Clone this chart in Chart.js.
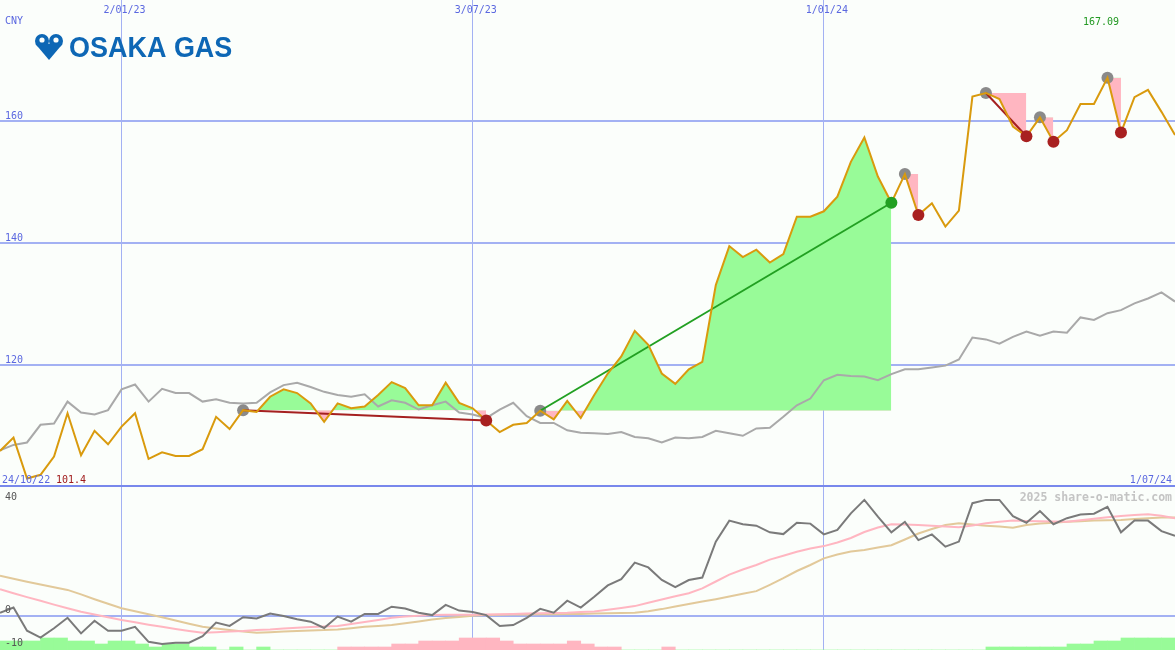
<!DOCTYPE html>
<html>
<head>
<meta charset="utf-8">
<script src="https://cdn.jsdelivr.net/npm/chart.js@4.4.1/dist/chart.umd.min.js"></script>
<style>
html, body { margin: 0; padding: 0; background: #fbfefb; }
canvas { display: block; }
</style>
</head>
<body>
<canvas id="priceChart" width="1175" height="487"></canvas>
<canvas id="oscChart" width="1175" height="163"></canvas>
<script>
// weekly closes, index 0 = first week shown
const dateIdx = [9, 35, 61];
const dateLabels = ['2/01/23', '3/07/23', '1/01/24'];
const startLabel = '24/10/22';
const endLabel = '1/07/24';
const minLabel = '101.4';
const maxLabel = '167.09';
const currency = 'CNY';
const priceTicks = [120, 140, 160];
const oscTicks = [40, 0, -10];

const price = [105.9, 108.1, 101.4, 102.0, 105.0, 112.1, 105.2, 109.2, 107.0, 109.9,
  112.1, 104.6, 105.7, 105.1, 105.1, 106.2, 111.5, 109.5, 112.6, 112.3,
  114.8, 116.0, 115.4, 113.7, 110.7, 113.7, 112.9, 113.2, 115.1, 117.2,
  116.2, 113.4, 113.4, 117.1, 113.8, 112.9, 110.9, 109.0, 110.2, 110.5,
  112.5, 111.1, 114.1, 111.3, 115.1, 118.6, 121.4, 125.6, 123.3, 118.6,
  116.9, 119.3, 120.5, 133.1, 139.5, 137.7, 138.9, 136.8, 138.2, 144.3,
  144.3, 145.2, 147.6, 153.3, 157.3, 150.9, 146.6, 151.3, 144.6, 146.5,
  142.7, 145.3, 164.0, 164.6, 163.6, 159.1, 157.5, 160.6, 156.6, 158.5,
  162.8, 162.8, 167.1, 158.1, 163.9, 165.1, 161.5, 157.7];

const avgLine = [106.0, 106.9, 107.3, 110.2, 110.4, 114.0, 112.2, 111.9, 112.6, 116.0,
  116.8, 114.0, 116.1, 115.4, 115.4, 114.0, 114.4, 113.8, 113.7, 113.8,
  115.5, 116.7, 117.1, 116.4, 115.6, 115.1, 114.8, 115.2, 113.2, 114.2,
  113.8, 112.7, 113.4, 114.0, 112.2, 111.9, 111.3, 112.7, 113.8, 111.6,
  110.5, 110.5, 109.3, 108.9, 108.8, 108.7, 109.0, 108.2, 108.0, 107.3,
  108.1, 108.0, 108.2, 109.2, 108.8, 108.4, 109.6, 109.7, 111.5, 113.4,
  114.5, 117.5, 118.4, 118.2, 118.1, 117.5, 118.5, 119.3, 119.3, 119.6,
  119.9, 120.9, 124.5, 124.2, 123.5, 124.6, 125.5, 124.8, 125.5, 125.3,
  127.8, 127.4, 128.5, 129.0, 130.1, 130.9, 131.9, 130.4];

// trades: entry week -> exit week
const tradeStart = [18, 40, 67, 73, 77, 82];
const tradeEnd = [36, 66, 68, 76, 78, 83];

// lower panel
const momentum = [1.1, 2.8, -4.9, -7.2, -4.1, -0.6, -5.8, -1.6, -4.9, -4.9,
  -3.6, -8.6, -9.3, -8.9, -8.9, -6.7, -2.2, -3.3, -0.4, -0.8,
  0.8, 0.0, -1.1, -1.9, -4.0, -0.2, -1.9, 0.7, 0.7, 3.1,
  2.5, 1.1, 0.3, 3.7, 1.8, 1.3, 0.3, -3.3, -3.0, -0.6,
  2.4, 1.1, 5.1, 2.8, 6.4, 10.2, 12.3, 17.8, 16.2, 12.0,
  9.6, 12.0, 12.8, 24.8, 31.8, 30.6, 30.1, 27.9, 27.3, 31.1,
  30.8, 27.2, 28.7, 34.2, 38.7, 33.1, 27.9, 31.4, 25.3, 27.2,
  23.1, 24.8, 37.6, 38.7, 38.7, 33.3, 31.1, 35.0, 30.6, 32.6,
  33.8, 34.1, 36.4, 27.9, 31.8, 31.8, 28.3, 26.7];

const fastAvg = [8.9, 7.6, 6.3, 5.1, 3.8, 2.6, 1.4, 0.5, -0.4, -1.3,
  -2.1, -2.9, -3.6, -4.3, -5.0, -5.6, -5.4, -5.2, -5.0, -4.7,
  -4.5, -4.2, -3.9, -3.7, -3.5, -3.3, -2.7, -2.0, -1.3, -0.6,
  -0.2, 0.1, 0.3, 0.4, 0.4, 0.4, 0.5, 0.6, 0.7, 0.8,
  0.9, 1.0, 1.1, 1.3, 1.5, 2.1, 2.7, 3.3, 4.4, 5.5,
  6.6, 7.6, 9.2, 11.5, 13.8, 15.5, 17.0, 18.8, 20.1, 21.4,
  22.5, 23.3, 24.5, 26.0, 28.0, 29.5, 30.6, 30.5, 30.3, 30.1,
  29.8, 29.6, 30.2, 30.9, 31.4, 31.8, 31.7, 31.6, 31.5, 31.4,
  31.9, 32.4, 32.9, 33.3, 33.7, 33.9, 33.4, 32.6];

const slowAvg = [13.4, 12.4, 11.4, 10.5, 9.6, 8.7, 7.2, 5.6, 4.1, 2.6,
  1.6, 0.6, -0.4, -1.5, -2.6, -3.6, -4.2, -4.7, -5.2, -5.6,
  -5.4, -5.2, -5.0, -4.8, -4.7, -4.5, -4.1, -3.6, -3.3, -3.0,
  -2.4, -1.8, -1.2, -0.7, -0.3, 0.1, 0.3, 0.4, 0.5, 0.5,
  0.6, 0.6, 0.7, 0.7, 0.8, 0.9, 1.0, 1.1, 1.6, 2.3,
  3.2, 4.0, 4.8, 5.6, 6.5, 7.4, 8.3, 10.4, 12.6, 15.0,
  17.0, 19.2, 20.5, 21.5, 22.0, 22.8, 23.6, 25.5, 27.5, 29.0,
  30.3, 30.9, 30.5, 30.1, 29.8, 29.4, 30.3, 30.8, 31.1, 31.4,
  31.6, 31.8, 31.9, 32.0, 32.3, 32.6, 32.8, 32.8];

// bar between week i and i+1, + = green, - = pink
const histo = [3, 3, 3, 4, 4, 3, 3, 2, 3, 3,
  2, 1, 2, 2, 1, 1, 0, 1, 0, 1,
  0, 0, 0, 0, 0, -1, -1, -1, -1, -2,
  -2, -3, -3, -3, -4, -4, -4, -3, -2, -2,
  -2, -2, -3, -2, -1, -1, 0, 0, 0, -1,
  0, 0, 0, 0, 0, 0, 0, 0, 0, 0,
  0, 0, 0, 0, 0, 0, 0, 0, 0, 0,
  0, 0, 0, 1, 1, 1, 1, 1, 1, 2,
  2, 3, 3, 4, 4, 4, 4];

const BLUE_TXT = '#5b68e0';
const GRID = '#a3b1f3';
const UP = '#98fb98';
const DOWN = '#ffb6c1';
const MONO = '"DejaVu Sans Mono", monospace';

function pts(arr, from, to) {
  var out = [];
  for (var i = from; i <= to; i++) out.push({ x: i, y: arr[i] });
  return out;
}

var datasets = [];
tradeStart.forEach(function (a, k) {
  var b = tradeEnd[k];
  var win = price[b] > price[a];
  datasets.push({
    data: pts(price, a, b), borderWidth: 0, pointRadius: 0, order: 10,
    fill: { target: { value: price[a] }, above: UP, below: DOWN }
  });
  // one-week trades: the line would just sit on the price line
  if (b - a > 1) {
    datasets.push({
      data: [{ x: a, y: price[a] }, { x: b, y: price[b] }], borderColor: win ? '#22a022' : '#a52020',
      borderWidth: 2, pointRadius: 0, order: 6.5
    });
  }
});
datasets.push({ data: pts(avgLine, 0, 87), borderColor: '#a9a9a9', borderWidth: 2, pointRadius: 0, order: 8 });
datasets.push({
  data: tradeStart.map(function (a) { return { x: a, y: price[a] }; }), showLine: false,
  pointRadius: 6, pointBackgroundColor: '#8a8a8a', pointBorderWidth: 0, order: 7
});
datasets.push({ data: pts(price, 0, 87), borderColor: '#d99a0d', borderWidth: 2, pointRadius: 0, order: 6 });
datasets.push({
  data: tradeEnd.map(function (b) { return { x: b, y: price[b] }; }), showLine: false, pointRadius: 6,
  pointBackgroundColor: tradeEnd.map(function (b, k) { return price[b] > price[tradeStart[k]] ? '#22a022' : '#a82020'; }),
  pointBorderWidth: 0, order: 4
});

function drawLogo(ctx) {
  ctx.save();
  ctx.fillStyle = '#0d67b5';
  ctx.beginPath();
  ctx.arc(42, 41, 7, 0, Math.PI * 2);
  ctx.arc(56, 41, 7, 0, Math.PI * 2);
  ctx.fill();
  ctx.beginPath();
  ctx.moveTo(35.5, 44);
  ctx.lineTo(49, 60);
  ctx.lineTo(62.5, 44);
  ctx.closePath();
  ctx.fill();
  ctx.fillStyle = '#fbfefb';
  ctx.beginPath();
  ctx.arc(42, 40, 2.6, 0, Math.PI * 2);
  ctx.arc(56, 40, 2.6, 0, Math.PI * 2);
  ctx.fill();
  ctx.fillStyle = '#0d67b5';
  ctx.font = 'bold 29px "Liberation Sans", Arial, sans-serif';
  ctx.translate(69, 57);
  ctx.scale(0.93, 1);
  ctx.fillText('OSAKA GAS', 0, 0);
  ctx.restore();
}

const priceText = {
  id: 'priceText',
  afterDraw: function (chart) {
    var ctx = chart.ctx, xs = chart.scales.x, ys = chart.scales.y;
    ctx.save();
    ctx.fillStyle = '#7888ec';
    ctx.fillRect(0, 485, chart.width, 2);
    ctx.font = '10px ' + MONO;
    ctx.fillStyle = BLUE_TXT;
    ctx.textAlign = 'center';
    dateIdx.forEach(function (d, k) { ctx.fillText(dateLabels[k], xs.getPixelForValue(d) + 3, 13); });
    ctx.textAlign = 'left';
    ctx.fillText(currency, 5, 24);
    priceTicks.forEach(function (v) { ctx.fillText(String(v), 5, ys.getPixelForValue(v) - 2); });
    ctx.fillText(startLabel, 2, 483);
    ctx.fillStyle = '#a01c1c';
    ctx.fillText(minLabel, 56, 483);
    ctx.fillStyle = '#229922';
    ctx.fillText(maxLabel, 1083, 25);
    ctx.fillStyle = BLUE_TXT;
    ctx.textAlign = 'right';
    ctx.fillText(endLabel, 1172, 483);
    ctx.restore();
    drawLogo(ctx);
  }
};

new Chart(document.getElementById('priceChart'), {
  type: 'line',
  data: { datasets: datasets },
  options: {
    responsive: false, animation: false,
    layout: { padding: 0, autoPadding: false },
    elements: { line: { tension: 0 } },
    plugins: { legend: { display: false }, tooltip: { enabled: false } },
    scales: {
      x: {
        type: 'linear', min: 0, max: 87, offset: false,
        afterBuildTicks: function (s) { s.ticks = dateIdx.map(function (v) { return { value: v }; }); },
        grid: { color: GRID, lineWidth: 1, drawTicks: false },
        border: { display: false }, ticks: { display: false }
      },
      y: {
        min: 100, max: 179.84,
        afterBuildTicks: function (s) { s.ticks = priceTicks.map(function (v) { return { value: v }; }); },
        grid: { color: GRID, lineWidth: 2, drawTicks: false },
        border: { display: false }, ticks: { display: false }
      }
    }
  },
  plugins: [priceText]
});

const oscText = {
  id: 'oscText',
  afterDraw: function (chart) {
    var ctx = chart.ctx, ys = chart.scales.y;
    ctx.save();
    ctx.font = '10px ' + MONO;
    ctx.fillStyle = '#555';
    ctx.textAlign = 'left';
    oscTicks.forEach(function (v) {
      var y = ys.getPixelForValue(v) + 4;
      if (v === 0) y -= 7;
      if (y > 160) y = 159;
      ctx.fillText(String(v), 5, y);
    });
    ctx.font = 'bold 11.5px ' + MONO;
    ctx.fillStyle = '#c4c4c4';
    ctx.textAlign = 'right';
    ctx.fillText('2025 share-o-matic.com', 1172, 14);
    ctx.restore();
  }
};

new Chart(document.getElementById('oscChart'), {
  type: 'line',
  data: {
    datasets: [
      {
        type: 'bar', yAxisID: 'yh', order: 10,
        data: histo.map(function (h, i) { return { x: i + 0.5, y: Math.abs(h) }; }),
        backgroundColor: histo.map(function (h) { return h >= 0 ? UP : DOWN; }),
        borderWidth: 0, barPercentage: 1, categoryPercentage: 1, grouped: false
      },
      { data: pts(slowAvg, 0, 87), borderColor: '#e2c99a', borderWidth: 2, pointRadius: 0, order: 6 },
      { data: pts(fastAvg, 0, 87), borderColor: '#ffb6c1', borderWidth: 2, pointRadius: 0, order: 5 },
      { data: pts(momentum, 0, 87), borderColor: '#7a7a7a', borderWidth: 2, pointRadius: 0, order: 4 }
    ]
  },
  options: {
    responsive: false, animation: false,
    layout: { padding: 0, autoPadding: false },
    elements: { line: { tension: 0 } },
    plugins: { legend: { display: false }, tooltip: { enabled: false } },
    scales: {
      x: {
        type: 'linear', min: 0, max: 87, offset: false,
        afterBuildTicks: function (s) { s.ticks = dateIdx.map(function (v) { return { value: v }; }); },
        grid: { color: GRID, lineWidth: 1, drawTicks: false, offset: false },
        border: { display: false }, ticks: { display: false }
      },
      y: {
        min: -11.33, max: 43,
        afterBuildTicks: function (s) { s.ticks = [{ value: 0 }]; },
        grid: { color: GRID, lineWidth: 2, drawTicks: false },
        border: { display: false }, ticks: { display: false }
      },
      yh: { display: false, min: 0, max: 163 / 3 }
    }
  },
  plugins: [oscText]
});
</script>
</body>
</html>
